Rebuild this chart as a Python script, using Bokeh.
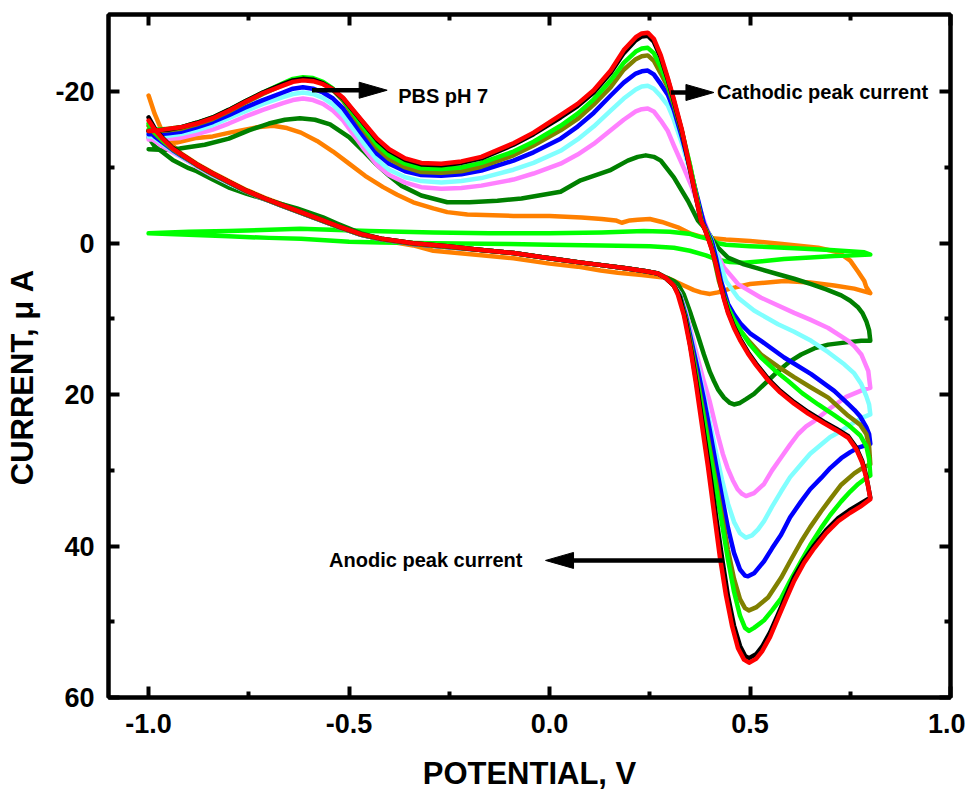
from bokeh.plotting import figure
from bokeh.models import Range1d, LinearAxis, FixedTicker, PrintfTickFormatter
from bokeh.embed import file_html
from bokeh.resources import INLINE
from bokeh.core.properties import value

# ---------------- axis ticks ----------------
x_major = [-1.0, -0.5, 0.0, 0.5, 1.0]
x_minor = [-0.75, -0.25, 0.25, 0.75]
y_major = [-20, 0, 20, 40, 60]
y_minor = [-10, 10, 30, 50]

# ---------------- CV curves (potential V, current uA) ----------------
cv_orange = [(-1.0,-19.5),(-0.985,-17.1),(-0.9675,-14.9),(-0.955,-13.8),(-0.94,-12.9),(-0.92,-11.9),(-0.88,-10.5),
    (-0.84,-9.3),(-0.80,-8.2),(-0.755,-7.0),(-0.71,-6.0),(-0.67,-5.2),(-0.62,-4.2),(-0.58,-3.4),(-0.53,-2.4),
    (-0.47,-1.2),(-0.42,-0.4),(-0.34,0.3),(-0.29,1.0),(-0.17,1.6),(-0.09,2.0),(0.0,2.7),(0.07,3.1),(0.1275,3.6),
    (0.17,3.9),(0.23,4.2),(0.295,4.6),(0.335,5.6),(0.36,6.2),(0.3775,6.5),(0.40,6.7),(0.42,6.5),(0.45,6.0),
    (0.50,5.4),(0.585,5.0),(0.65,5.2),(0.71,5.6),(0.76,6.0),(0.80,6.6),
    (0.79,5.8),(0.785,5.0),(0.77,3.8),(0.75,2.3),(0.72,1.2),(0.67,0.6),(0.58,0.1),(0.50,-0.3),(0.44,-0.5),
    (0.40,-0.7),(0.375,-0.9),(0.35,-1.3),(0.32,-2.1),(0.28,-2.8),(0.25,-3.2),(0.22,-3.1),(0.20,-3.0),(0.18,-2.7),
    (0.165,-3.0),(0.13,-3.2),(0.08,-3.4),(0.0,-3.6),(-0.09,-3.6),(-0.205,-3.8),(-0.255,-4.1),(-0.29,-4.6),
    (-0.34,-5.4),(-0.38,-6.4),(-0.415,-7.4),(-0.46,-8.9),(-0.50,-10.5),(-0.54,-12.1),(-0.58,-13.5),(-0.62,-14.6),
    (-0.655,-15.2),(-0.69,-15.5),(-0.73,-15.3),(-0.7975,-14.6),(-0.84,-14.1),(-0.88,-13.9),(-0.93,-13.3),
    (-0.9525,-13.6),(-0.9675,-14.9),(-0.985,-17.1),(-1.0,-19.5)]

cv_blank = [(-1.0,-1.3),(-0.9,-1.1),(-0.8,-0.9),(-0.7,-0.7),(-0.62,-0.6),(-0.5,-0.2),(-0.42,-0.1),(-0.29,0.0),
    (-0.1,0.1),(0.0,0.2),(0.13,0.3),(0.25,0.4),(0.31,0.6),(0.35,1.0),(0.39,1.6),(0.42,2.2),(0.45,2.5),(0.485,2.6),
    (0.53,2.4),(0.585,2.1),(0.65,1.9),(0.71,1.7),(0.76,1.6),(0.80,1.5),
    (0.785,1.2),(0.70,0.9),(0.585,0.6),(0.50,0.4),(0.44,0.2),(0.42,0.0),(0.40,-0.5),(0.37,-0.9),(0.3525,-1.2),
    (0.30,-1.5),(0.235,-1.6),(0.13,-1.4),(0.0,-1.3),(-0.15,-1.3),(-0.29,-1.4),(-0.45,-1.6),(-0.6225,-1.9),
    (-0.8,-1.6),(-0.9,-1.5),(-1.0,-1.3)]

cv_dkgreen = [(-1.0,-14.0),(-0.985,-12.8),(-0.965,-12.0),(-0.94,-11.0),(-0.90,-9.9),(-0.88,-9.5),(-0.84,-8.4),
    (-0.7975,-7.3),(-0.755,-6.5),(-0.715,-5.9),(-0.67,-5.2),(-0.63,-4.6),(-0.565,-3.4),(-0.53,-2.6),(-0.47,-1.3),
    (-0.42,-0.6),(-0.34,0.0),(-0.255,0.4),(-0.17,0.9),(-0.09,1.3),(0.0,2.0),(0.07,2.5),(0.13,2.9),(0.19,3.3),
    (0.24,3.7),(0.27,4.0),(0.29,4.5),(0.31,5.0),(0.32,5.4),(0.335,6.8),(0.3525,9.4),(0.37,12.2),(0.385,14.7),
    (0.40,17.0),(0.41,18.2),(0.42,19.3),(0.435,20.4),(0.45,21.1),(0.46,21.3),(0.475,21.1),(0.49,20.6),(0.51,19.9),
    (0.54,18.4),(0.57,16.9),(0.60,15.6),(0.6275,14.7),(0.66,13.9),(0.695,13.4),(0.74,13.1),(0.7775,12.9),(0.80,12.9),
    (0.797,11.5),(0.79,10.3),(0.78,9.2),(0.77,8.5),(0.75,7.6),(0.7275,6.9),(0.69,6.1),(0.6525,5.4),(0.61,4.7),
    (0.57,4.1),(0.53,3.5),(0.485,2.8),(0.445,1.9),(0.42,0.6),(0.41,-0.2),(0.395,-1.5),(0.37,-3.0),(0.345,-5.6),
    (0.31,-8.7),(0.2775,-10.9),(0.26,-11.4),(0.24,-11.6),(0.22,-11.4),(0.195,-10.9),(0.15,-9.6),(0.0775,-8.3),
    (0.0275,-6.8),(-0.005,-6.5),(-0.07,-5.9),(-0.13,-5.6),(-0.20,-5.4),(-0.255,-5.4),(-0.32,-6.3),(-0.37,-7.6),
    (-0.40,-8.9),(-0.43,-10.3),(-0.465,-12.2),(-0.50,-14.0),(-0.5475,-15.7),(-0.585,-16.3),(-0.6225,-16.5),
    (-0.66,-16.3),(-0.70,-15.8),(-0.75,-14.9),(-0.80,-13.8),(-0.86,-13.0),(-0.9225,-12.5),(-0.96,-12.3),(-1.0,-12.4)]

cv_pink = [(-1.0,-14.0),(-0.985,-13.5),(-0.965,-12.8),(-0.94,-12.0),(-0.92,-11.4),(-0.88,-10.1),(-0.84,-8.9),
    (-0.80,-7.9),(-0.755,-6.8),(-0.71,-5.8),(-0.67,-5.0),(-0.62,-4.0),(-0.58,-3.2),(-0.53,-2.2),(-0.47,-1.1),
    (-0.42,-0.5),(-0.34,0.1),(-0.255,0.5),(-0.17,0.9),(-0.09,1.3),(0.0,2.0),(0.07,2.5),(0.13,2.9),(0.19,3.3),
    (0.24,3.7),(0.27,4.0),(0.29,4.6),(0.31,5.6),(0.325,6.7),(0.34,9.0),(0.355,12.2),(0.37,15.3),(0.385,18.3),
    (0.40,21.0),(0.419,25.2),(0.432,27.8),(0.444,29.7),(0.457,31.3),(0.469,32.5),(0.48,33.1),(0.49,33.4),
    (0.51,33.0),(0.535,31.8),(0.555,30.0),(0.5775,28.3),(0.60,26.6),(0.62,25.2),(0.64,24.2),(0.66,23.5),
    (0.70,21.8),(0.74,20.3),(0.78,19.4),(0.80,19.1),
    (0.797,17.8),(0.795,16.9),(0.7775,14.7),(0.76,13.6),(0.745,12.9),(0.695,11.2),(0.65,10.1),(0.61,9.2),
    (0.5275,7.2),(0.47,5.4),(0.435,3.2),(0.41,0.6),(0.3975,-1.2),(0.385,-3.0),(0.37,-5.2),(0.355,-7.4),
    (0.335,-9.9),(0.31,-12.9),(0.295,-14.8),(0.2775,-16.2),(0.26,-17.4),(0.245,-17.8),(0.23,-17.7),(0.215,-17.4),
    (0.185,-16.3),(0.1525,-14.9),(0.11,-13.1),(0.07,-11.7),(0.0275,-10.5),(-0.04,-9.2),(-0.09,-8.4),(-0.17,-7.6),
    (-0.22,-7.3),(-0.27,-7.2),(-0.32,-7.4),(-0.36,-8.0),(-0.40,-9.0),(-0.43,-10.3),(-0.465,-12.6),(-0.49,-14.4),
    (-0.515,-16.2),(-0.54,-17.5),(-0.565,-18.4),(-0.59,-18.9),(-0.615,-19.1),(-0.64,-18.9),(-0.665,-18.5),
    (-0.715,-17.6),(-0.76,-16.7),(-0.80,-15.8),(-0.84,-15.0),(-0.88,-14.4),(-0.92,-13.9),(-0.95,-13.8),
    (-0.975,-13.7),(-1.0,-13.7)]

cv_cyan = [(-1.0,-14.5),(-0.985,-13.9),(-0.965,-13.1),(-0.94,-12.2),(-0.92,-11.5),(-0.88,-10.2),(-0.84,-9.0),
    (-0.80,-7.9),(-0.755,-6.8),(-0.71,-5.8),(-0.67,-5.0),(-0.62,-4.0),(-0.58,-3.2),(-0.53,-2.2),(-0.47,-1.1),
    (-0.42,-0.5),(-0.34,0.1),(-0.255,0.5),(-0.17,0.9),(-0.09,1.3),(0.0,2.0),(0.07,2.5),(0.13,2.9),(0.19,3.3),
    (0.24,3.7),(0.27,4.0),(0.29,4.6),(0.31,5.6),(0.325,6.8),(0.34,9.3),(0.355,12.8),(0.37,16.3),(0.385,20.0),
    (0.40,23.8),(0.415,27.6),(0.43,31.2),(0.445,34.4),(0.46,36.8),(0.475,38.3),(0.49,38.9),(0.505,38.6),
    (0.52,37.8),(0.535,36.7),(0.555,34.8),(0.5775,32.8),(0.60,30.9),(0.6275,29.2),(0.65,27.8),(0.6775,26.6),
    (0.70,25.6),(0.7275,24.8),(0.75,24.0),(0.7775,23.1),(0.80,22.6),
    (0.797,21.3),(0.79,20.2),(0.7775,18.6),(0.76,17.2),(0.735,16.0),(0.695,14.4),(0.6525,12.9),(0.61,11.7),
    (0.57,10.7),(0.51,8.9),(0.47,7.2),(0.44,5.0),(0.42,1.9),(0.4025,-0.7),(0.395,-1.4),(0.385,-2.3),(0.37,-5.7),
    (0.35,-9.6),(0.33,-13.2),(0.31,-16.3),(0.295,-18.2),(0.2775,-19.4),(0.26,-20.4),(0.245,-20.8),(0.23,-20.7),
    (0.215,-20.3),(0.185,-19.1),(0.1525,-17.5),(0.11,-15.4),(0.07,-13.7),(0.0275,-12.2),(-0.04,-10.6),
    (-0.09,-9.7),(-0.17,-8.6),(-0.22,-8.2),(-0.27,-8.0),(-0.32,-8.2),(-0.36,-8.7),(-0.40,-9.7),(-0.43,-11.0),
    (-0.465,-13.3),(-0.49,-15.1),(-0.515,-16.9),(-0.54,-18.3),(-0.565,-19.2),(-0.59,-19.7),(-0.615,-19.9),
    (-0.64,-19.7),(-0.665,-19.3),(-0.715,-18.4),(-0.76,-17.4),(-0.80,-16.5),(-0.84,-15.6),(-0.88,-14.9),
    (-0.92,-14.4),(-0.95,-14.2),(-0.975,-14.1),(-1.0,-14.1)]

cv_blue = [(-1.0,-14.8),(-0.985,-14.1),(-0.965,-13.3),(-0.94,-12.3),(-0.92,-11.6),(-0.88,-10.3),(-0.84,-9.1),
    (-0.80,-8.0),(-0.755,-6.8),(-0.71,-5.8),(-0.67,-5.0),(-0.62,-4.0),(-0.58,-3.2),(-0.53,-2.2),(-0.47,-1.1),
    (-0.42,-0.5),(-0.34,0.1),(-0.255,0.5),(-0.17,0.9),(-0.09,1.3),(0.0,2.0),(0.07,2.5),(0.13,2.9),(0.19,3.3),
    (0.24,3.7),(0.27,4.0),(0.29,4.6),(0.31,5.6),(0.325,6.9),(0.34,9.6),(0.355,13.2),(0.37,16.8),(0.385,20.6),
    (0.40,24.8),(0.415,29.2),(0.43,33.5),(0.445,37.6),(0.46,40.9),(0.475,43.1),(0.4875,43.9),(0.495,44.0),
    (0.51,43.6),(0.535,42.0),(0.555,40.3),(0.5775,38.5),(0.60,36.2),(0.6275,34.1),(0.65,32.5),(0.6775,31.0),
    (0.70,29.7),(0.7275,28.4),(0.75,27.6),(0.77,27.0),(0.80,26.5),
    (0.797,25.2),(0.79,24.3),(0.775,22.9),(0.76,22.0),(0.74,21.0),(0.71,19.5),(0.6525,17.3),(0.585,15.1),
    (0.5275,12.9),(0.50,11.9),(0.4775,10.7),(0.46,9.4),(0.445,8.0),(0.4275,5.0),(0.415,1.9),(0.405,-0.2),
    (0.395,-1.4),(0.385,-2.6),(0.37,-5.8),(0.35,-10.0),(0.33,-14.0),(0.31,-17.6),(0.295,-19.6),(0.2775,-21.0),
    (0.26,-22.3),(0.245,-22.8),(0.23,-22.7),(0.215,-22.4),(0.185,-21.2),(0.1525,-19.5),(0.11,-17.2),(0.07,-15.4),
    (0.0275,-13.8),(-0.04,-12.0),(-0.09,-10.9),(-0.17,-9.6),(-0.22,-9.1),(-0.27,-8.9),(-0.32,-9.0),(-0.36,-9.5),
    (-0.40,-10.5),(-0.43,-11.8),(-0.465,-14.2),(-0.49,-16.0),(-0.515,-17.8),(-0.54,-19.1),(-0.565,-19.9),
    (-0.59,-20.4),(-0.615,-20.6),(-0.64,-20.4),(-0.665,-19.9),(-0.715,-18.9),(-0.76,-17.9),(-0.80,-16.9),
    (-0.84,-16.0),(-0.88,-15.3),(-0.92,-14.7),(-0.95,-14.5),(-0.975,-14.4),(-1.0,-14.4)]

cv_olive = [(-1.0,-15.5),(-0.985,-14.5),(-0.965,-13.5),(-0.94,-12.4),(-0.92,-11.7),(-0.88,-10.3),(-0.84,-9.1),
    (-0.80,-8.0),(-0.755,-6.8),(-0.71,-5.8),(-0.67,-5.0),(-0.62,-4.0),(-0.58,-3.2),(-0.53,-2.2),(-0.47,-1.1),
    (-0.42,-0.5),(-0.34,0.1),(-0.255,0.5),(-0.17,0.9),(-0.09,1.3),(0.0,2.0),(0.07,2.5),(0.13,2.9),(0.19,3.3),
    (0.24,3.7),(0.27,4.0),(0.29,4.6),(0.31,5.6),(0.325,7.0),(0.34,10.0),(0.355,14.0),(0.37,18.3),(0.385,22.7),
    (0.40,27.2),(0.415,31.5),(0.43,36.0),(0.445,40.5),(0.46,44.3),(0.475,47.0),(0.4875,48.2),(0.4975,48.5),
    (0.515,48.1),(0.545,46.8),(0.5775,44.2),(0.60,42.0),(0.6275,39.4),(0.65,37.5),(0.6775,35.4),(0.70,33.8),
    (0.7275,31.9),(0.76,30.4),(0.78,29.7),(0.80,29.2),
    (0.797,26.8),(0.79,25.2),(0.775,24.0),(0.745,22.8),(0.695,20.4),(0.65,19.0),(0.61,17.7),(0.57,16.3),
    (0.5275,14.7),(0.50,13.1),(0.47,11.2),(0.455,9.8),(0.445,8.5),(0.4325,6.7),(0.4225,5.0),(0.4125,2.6),
    (0.4025,0.0),(0.392,-1.6),(0.38,-2.7),(0.365,-6.5),(0.35,-10.3),(0.33,-14.6),(0.31,-18.3),(0.295,-20.6),
    (0.2775,-22.4),(0.26,-24.1),(0.245,-24.8),(0.23,-24.7),(0.215,-24.3),(0.185,-22.9),(0.1525,-20.6),
    (0.11,-18.3),(0.07,-16.4),(0.0275,-14.9),(-0.04,-12.9),(-0.09,-11.6),(-0.17,-10.1),(-0.22,-9.5),(-0.27,-9.3),
    (-0.32,-9.4),(-0.36,-10.0),(-0.40,-11.1),(-0.43,-12.5),(-0.465,-15.0),(-0.49,-16.9),(-0.515,-18.8),
    (-0.54,-20.2),(-0.565,-21.1),(-0.59,-21.6),(-0.615,-21.7),(-0.64,-21.5),(-0.665,-20.9),(-0.715,-19.7),
    (-0.76,-18.5),(-0.80,-17.4),(-0.84,-16.4),(-0.88,-15.7),(-0.92,-15.1),(-0.95,-14.9),(-0.975,-14.8),(-1.0,-14.8)]

cv_lime = [(-1.0,-15.8),(-0.985,-14.7),(-0.965,-13.6),(-0.94,-12.5),(-0.92,-11.8),(-0.88,-10.4),(-0.84,-9.2),
    (-0.80,-8.1),(-0.755,-6.9),(-0.71,-5.9),(-0.67,-5.1),(-0.62,-4.1),(-0.58,-3.3),(-0.53,-2.3),(-0.47,-1.2),
    (-0.42,-0.6),(-0.34,0.0),(-0.255,0.4),(-0.17,0.9),(-0.09,1.3),(0.0,2.0),(0.07,2.5),(0.13,2.9),(0.19,3.3),
    (0.24,3.7),(0.27,4.0),(0.29,4.6),(0.31,5.6),(0.325,7.0),(0.34,10.2),(0.355,14.5),(0.37,18.8),(0.385,23.3),
    (0.40,27.8),(0.415,32.3),(0.43,37.0),(0.445,41.8),(0.46,46.0),(0.475,49.2),(0.4875,50.8),(0.4975,51.2),
    (0.51,50.8),(0.535,49.8),(0.555,48.5),(0.5775,46.9),(0.60,44.6),(0.6275,42.0),(0.65,39.9),(0.6775,37.6),
    (0.70,35.9),(0.7275,34.1),(0.75,32.8),(0.77,31.8),(0.79,31.0),(0.80,30.7),
    (0.797,28.5),(0.79,26.8),(0.775,25.4),(0.745,24.0),(0.71,22.7),(0.67,21.3),(0.63,19.8),(0.595,18.2),
    (0.56,16.7),(0.5275,15.1),(0.50,13.4),(0.4775,11.6),(0.46,10.1),(0.445,8.5),(0.43,6.2),(0.42,4.1),
    (0.41,1.8),(0.40,-0.4),(0.39,-1.6),(0.38,-2.6),(0.365,-6.6),(0.35,-10.4),(0.33,-14.8),(0.31,-18.6),
    (0.295,-21.0),(0.2775,-23.2),(0.26,-25.1),(0.245,-25.8),(0.23,-25.7),(0.215,-25.3),(0.185,-23.8),
    (0.1525,-21.5),(0.11,-19.0),(0.07,-17.1),(0.0275,-15.5),(-0.04,-13.4),(-0.09,-12.1),(-0.17,-10.6),
    (-0.22,-10.0),(-0.27,-9.8),(-0.32,-9.9),(-0.36,-10.5),(-0.40,-11.6),(-0.43,-13.0),(-0.465,-15.4),
    (-0.49,-17.2),(-0.515,-19.0),(-0.54,-20.4),(-0.565,-21.3),(-0.59,-21.8),(-0.615,-21.9),(-0.64,-21.7),
    (-0.665,-21.1),(-0.715,-19.9),(-0.76,-18.7),(-0.80,-17.6),(-0.84,-16.6),(-0.88,-15.9),(-0.92,-15.3),
    (-0.95,-15.1),(-0.975,-15.0),(-1.0,-15.0)]

cv_black = [(-1.0,-16.6),(-0.985,-15.2),(-0.965,-13.9),(-0.94,-12.6),(-0.92,-11.8),(-0.88,-10.4),(-0.84,-9.2),
    (-0.80,-8.1),(-0.755,-6.9),(-0.71,-5.9),(-0.67,-5.1),(-0.62,-4.1),(-0.58,-3.3),(-0.53,-2.3),(-0.47,-1.2),
    (-0.42,-0.6),(-0.34,0.0),(-0.255,0.4),(-0.17,0.9),(-0.09,1.3),(0.0,2.0),(0.07,2.5),(0.13,2.9),(0.19,3.3),
    (0.24,3.7),(0.27,4.0),(0.29,4.6),(0.31,5.6),(0.325,7.1),(0.34,10.3),(0.355,14.7),(0.37,19.6),(0.385,25.0),
    (0.40,30.3),(0.415,36.0),(0.43,41.5),(0.445,46.6),(0.46,50.5),(0.475,53.2),(0.4875,54.5),(0.4975,54.8),
    (0.515,54.3),(0.53,53.3),(0.55,51.4),(0.57,49.0),(0.59,46.5),(0.61,44.1),(0.635,41.8),(0.66,39.9),
    (0.69,37.9),(0.72,36.3),(0.75,35.2),(0.775,34.4),(0.80,33.6),
    (0.79,30.8),(0.78,28.8),(0.765,27.0),(0.745,25.5),(0.715,24.5),(0.685,23.6),(0.645,22.3),(0.61,21.0),
    (0.575,19.5),(0.545,17.9),(0.515,15.9),(0.495,14.4),(0.475,12.6),(0.46,11.0),(0.445,9.0),(0.435,7.2),
    (0.425,5.0),(0.415,2.7),(0.405,0.8),(0.3975,-0.4),(0.3875,-1.8),(0.3775,-3.0),(0.36,-7.3),(0.345,-11.0),
    (0.33,-14.8),(0.31,-18.8),(0.295,-21.6),(0.2775,-24.5),(0.26,-26.6),(0.245,-27.4),(0.23,-27.3),(0.215,-26.8),
    (0.185,-25.1),(0.1525,-22.5),(0.11,-19.9),(0.07,-18.1),(0.0275,-16.6),(-0.04,-14.4),(-0.09,-13.0),
    (-0.17,-11.2),(-0.22,-10.6),(-0.27,-10.3),(-0.32,-10.4),(-0.36,-11.0),(-0.40,-12.2),(-0.43,-13.6),
    (-0.465,-15.9),(-0.49,-17.5),(-0.515,-19.1),(-0.54,-20.3),(-0.565,-21.1),(-0.59,-21.6),(-0.615,-21.7),
    (-0.64,-21.5),(-0.665,-21.0),(-0.715,-19.9),(-0.76,-18.7),(-0.80,-17.6),(-0.84,-16.6),(-0.88,-15.9),
    (-0.92,-15.3),(-0.95,-15.0),(-0.975,-14.9),(-1.0,-14.8)]

cv_red = [(-1.0,-16.2),(-0.985,-15.0),(-0.965,-13.8),(-0.94,-12.5),(-0.92,-11.8),(-0.88,-10.4),(-0.84,-9.2),
    (-0.80,-8.1),(-0.755,-6.9),(-0.71,-5.9),(-0.67,-5.1),(-0.62,-4.1),(-0.58,-3.3),(-0.53,-2.3),(-0.47,-1.2),
    (-0.42,-0.6),(-0.34,0.0),(-0.255,0.4),(-0.17,0.9),(-0.09,1.3),(0.0,2.0),(0.07,2.5),(0.13,2.9),(0.19,3.3),
    (0.24,3.7),(0.27,4.0),(0.29,4.6),(0.31,5.6),(0.32,6.8),(0.335,9.5),(0.35,13.5),(0.365,18.5),(0.38,24.0),
    (0.395,29.5),(0.41,35.5),(0.425,41.5),(0.44,46.5),(0.455,50.5),(0.47,53.5),(0.485,55.0),(0.4975,55.4),
    (0.515,54.9),(0.53,53.9),(0.55,52.0),(0.57,49.5),(0.59,47.0),(0.61,44.6),(0.635,42.2),(0.66,40.3),
    (0.69,38.3),(0.72,36.7),(0.75,35.6),(0.775,34.8),(0.80,33.8),
    (0.795,32.2),(0.79,31.0),(0.78,29.0),(0.765,27.2),(0.745,25.7),(0.715,24.7),(0.685,23.8),(0.645,22.5),
    (0.61,21.2),(0.575,19.7),(0.545,18.1),(0.515,16.1),(0.495,14.6),(0.475,12.8),(0.46,11.2),(0.445,9.2),
    (0.435,7.4),(0.425,5.2),(0.415,2.8),(0.405,0.9),(0.3975,-0.3),(0.3875,-1.8),(0.3775,-3.0),(0.36,-7.4),
    (0.345,-11.2),(0.33,-15.0),(0.31,-19.0),(0.295,-21.8),(0.2775,-24.8),(0.26,-27.0),(0.245,-27.8),(0.23,-27.7),
    (0.215,-27.2),(0.185,-25.5),(0.1525,-22.8),(0.11,-20.2),(0.07,-18.4),(0.0275,-16.9),(-0.04,-14.6),
    (-0.09,-13.2),(-0.17,-11.4),(-0.22,-10.8),(-0.27,-10.5),(-0.32,-10.6),(-0.36,-11.2),(-0.40,-12.4),
    (-0.43,-13.8),(-0.465,-16.0),(-0.49,-17.6),(-0.515,-19.2),(-0.54,-20.3),(-0.565,-21.0),(-0.59,-21.4),
    (-0.615,-21.5),(-0.64,-21.3),(-0.665,-20.8),(-0.715,-19.8),(-0.76,-18.6),(-0.80,-17.5),(-0.84,-16.5),
    (-0.88,-15.8),(-0.92,-15.3),(-0.95,-15.1),(-0.975,-14.9),(-1.0,-14.8)]

series = [
    (cv_orange, "#FF8000", 4.5),
    (cv_blank, "#00FF00", 4.5),
    (cv_dkgreen, "#008000", 4.5),
    (cv_pink, "#FF80FF", 4.5),
    (cv_cyan, "#80FFFF", 4.5),
    (cv_blue, "#0000FF", 4.5),
    (cv_olive, "#808000", 4.5),
    (cv_lime, "#00FF00", 4.5),
    (cv_black, "#000000", 4.5),
    (cv_red, "#FF0000", 4.5),
]

# annotation arrows: (start x, y, tip x, y) and texts
arrows = [(-0.5925, -20.2, -0.405, -20.2), (0.3025, -19.9, 0.41, -19.9), (0.4325, 41.9, -0.01, 41.9)]
notes = [(-0.3775, -19.5, "PBS pH 7", "left"), (0.4175, -19.9, "Cathodic peak current", "left"),
         (-0.0675, 41.9, "Anodic peak current", "right")]

FONT = "Liberation Sans"
X0, X1 = -1.1, 1.0
Y0, Y1 = 60.0, -30.2

p = figure(width=965, height=793, x_range=Range1d(X0, X1), y_range=Range1d(Y0, Y1),
           output_backend="svg", toolbar_location=None,
           min_border_left=108, min_border_right=15, min_border_top=14, min_border_bottom=96,
           x_axis_label="POTENTIAL, V",
           y_axis_label="CURRENT, \u03bc A" + "\u00a0" * 5)
p.xgrid.visible = False
p.ygrid.visible = False
p.outline_line_color = "black"
p.outline_line_width = 4
p.background_fill_color = "white"
p.border_fill_color = "white"

def style_axis(ax, major, minor, fmt, labels=True):
    ax.ticker = FixedTicker(ticks=major, minor_ticks=minor)
    ax.formatter = PrintfTickFormatter(format=fmt)
    ax.axis_line_width = 4
    ax.axis_line_color = "black"
    ax.major_tick_line_width = 4
    ax.minor_tick_line_width = 4
    ax.major_tick_in = 11
    ax.major_tick_out = 0
    ax.minor_tick_in = 6
    ax.minor_tick_out = 0
    ax.major_label_text_font = FONT
    ax.major_label_text_font_style = "bold"
    ax.major_label_text_color = "black"
    ax.axis_label_text_font = FONT
    ax.axis_label_text_font_style = "bold"
    ax.axis_label_text_font_size = "31px"
    ax.axis_label_text_color = "black"
    if labels:
        ax.major_label_text_font_size = "27px"
    else:
        ax.major_label_text_font_size = "1px"
        ax.major_label_text_alpha = 0
        ax.major_label_standoff = 0

style_axis(p.xaxis[0], x_major, x_minor, "%.1f")
p.xaxis[0].major_label_standoff = 16
p.xaxis[0].axis_label_standoff = 20
style_axis(p.yaxis[0], y_major, y_minor, "%d")
p.yaxis[0].major_label_standoff = 14
p.yaxis[0].axis_label_standoff = 12

top = LinearAxis()
style_axis(top, x_major, x_minor, "%.1f", labels=False)
p.add_layout(top, "above")
right = LinearAxis()
style_axis(right, y_major, y_minor, "%d", labels=False)
p.add_layout(right, "right")

for data, color, w in series:
    xs = [d[0] for d in data]
    ys = [d[1] for d in data]
    p.line(xs, ys, line_color=color, line_width=w, line_join="round", line_cap="round")

# arrows
DX = (X1 - X0) / 842.0
DY = (Y0 - Y1) / 683.0
for x0, y0, x1, y1 in arrows:
    d = 1 if x1 > x0 else -1
    base = x1 - d * 28 * DX
    p.line([x0, base + d * 3 * DX], [y0, y1], line_color="black", line_width=4.5)
    p.patch([x1, base, base], [y1, y1 - 8 * DY, y1 + 8 * DY], fill_color="black", line_color="black", line_width=1)

for x, y, t, a in notes:
    p.text(x=[x], y=[y], text=[t], text_font=value(FONT), text_font_style="bold", text_font_size="20px",
           text_align=a, text_baseline="middle", text_color="black")

open("out.html", "w").write(file_html(p, INLINE))
